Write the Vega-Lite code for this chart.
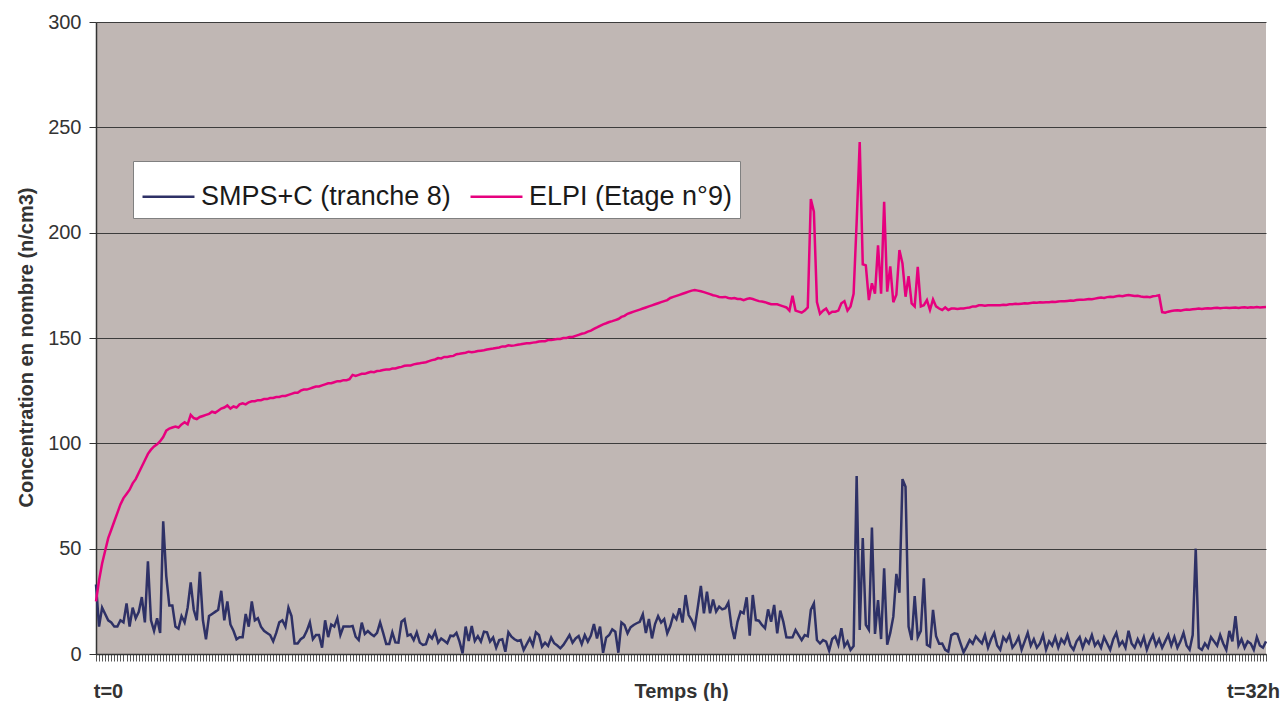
{
  "$schema": "https://vega.github.io/schema/vega-lite/v6.json",
  "width": 1170,
  "height": 632,
  "autosize": {"type": "none"},
  "padding": {"left": 96, "top": 22, "right": 18, "bottom": 47},
  "background": "white",
  "config": {
    "view": {"fill": "#C0B7B4", "stroke": null},
    "font": "Liberation Sans"
  },
  "data": {
    "values": [
      {"t":0,"s":33,"e":25},{"t":1,"s":13,"e":35},{"t":2,"s":22,"e":43},{"t":3,"s":19,"e":49},{"t":4,"s":16,"e":55},{"t":5,"s":15,"e":59},{"t":6,"s":13,"e":63},{"t":7,"s":13,"e":67},{"t":8,"s":16,"e":71},{"t":9,"s":15,"e":74},
      {"t":10,"s":24,"e":76},{"t":11,"s":13,"e":78},{"t":12,"s":22,"e":81},{"t":13,"s":17,"e":83},{"t":14,"s":20,"e":86},{"t":15,"s":27,"e":89},{"t":16,"s":15,"e":92},{"t":17,"s":44,"e":95},{"t":18,"s":16,"e":97},{"t":19,"s":11,"e":98.5},
      {"t":20,"s":17,"e":99.5},{"t":21,"s":10,"e":101},{"t":22,"s":63,"e":103},{"t":23,"s":37,"e":106},{"t":24,"s":23,"e":107},{"t":25,"s":23,"e":107.5},{"t":26,"s":13,"e":108},{"t":27,"s":12,"e":107.5},{"t":28,"s":18,"e":109},{"t":29,"s":15,"e":110},
      {"t":30,"s":22,"e":109},{"t":31,"s":34,"e":113.5},{"t":32,"s":21,"e":112},{"t":33,"s":16,"e":111.5},{"t":34,"s":39,"e":112.5},{"t":35,"s":16,"e":113},{"t":36,"s":7,"e":113.5},{"t":37,"s":18,"e":114},{"t":38,"s":19,"e":115},{"t":39,"s":20,"e":114.5},
      {"t":40,"s":21,"e":115.5},{"t":41,"s":30,"e":116.5},{"t":42,"s":16,"e":117},{"t":43,"s":25,"e":118},{"t":44,"s":14,"e":116.5},{"t":45,"s":11,"e":117.5},{"t":46,"s":7,"e":117},{"t":47,"s":8,"e":118.5},{"t":48,"s":8,"e":119},{"t":49,"s":19,"e":118.5},
      {"t":50,"s":13,"e":119.5},{"t":51,"s":25,"e":120},{"t":52,"s":16,"e":120},{"t":53,"s":17,"e":120.5},{"t":54,"s":13,"e":120.5},{"t":55,"s":11,"e":121},{"t":56,"s":10,"e":121},{"t":57,"s":9,"e":121.5},{"t":58,"s":6,"e":121.5},{"t":59,"s":10,"e":122},
      {"t":60,"s":15,"e":122},{"t":61,"s":16,"e":122.5},{"t":62,"s":13,"e":122.5},{"t":63,"s":22,"e":123},{"t":64,"s":18,"e":123.5},{"t":65,"s":5,"e":124},{"t":66,"s":5,"e":124},{"t":67,"s":7,"e":125},{"t":68,"s":8,"e":125.5},{"t":69,"s":11,"e":125.5},
      {"t":70,"s":15,"e":126},{"t":71,"s":7,"e":126.5},{"t":72,"s":9,"e":127},{"t":73,"s":9,"e":127},{"t":74,"s":3,"e":127.5},{"t":75,"s":16,"e":128},{"t":76,"s":8,"e":128.5},{"t":77,"s":14,"e":128.5},{"t":78,"s":13,"e":129},{"t":79,"s":17,"e":129.5},
      {"t":80,"s":9,"e":129.5},{"t":81,"s":13,"e":130},{"t":82,"s":13,"e":130},{"t":83,"s":13,"e":130.5},{"t":84,"s":13.3,"e":132.5},{"t":85,"s":8.2,"e":132},{"t":86,"s":6.6,"e":132.5},{"t":87,"s":14.9,"e":133},{"t":88,"s":9.5,"e":133},{"t":89,"s":10.9,"e":133.5},
      {"t":90,"s":9.5,"e":134},{"t":91,"s":8.5,"e":133.8},{"t":92,"s":10,"e":134.3},{"t":93,"s":15,"e":134.5},{"t":94,"s":10,"e":134.8},{"t":95,"s":4.7,"e":135},{"t":96,"s":4.7,"e":135},{"t":97,"s":10.3,"e":135.5},{"t":98,"s":5.5,"e":135.5},{"t":99,"s":5.4,"e":136},
      {"t":100,"s":15.3,"e":136.3},{"t":101,"s":16.5,"e":136.8},{"t":102,"s":8.7,"e":137},{"t":103,"s":9.3,"e":137},{"t":104,"s":6.6,"e":137.5},{"t":105,"s":10.3,"e":137.8},{"t":106,"s":5.4,"e":138},{"t":107,"s":4.3,"e":138.3},{"t":108,"s":4.7,"e":138.5},{"t":109,"s":9,"e":139},
      {"t":110,"s":7.4,"e":139.5},{"t":111,"s":10.6,"e":139.8},{"t":112,"s":5.4,"e":140.5},{"t":113,"s":7.4,"e":140.3},{"t":114,"s":6.3,"e":141},{"t":115,"s":5.1,"e":141},{"t":116,"s":8.7,"e":141.3},{"t":117,"s":8.5,"e":141.5},{"t":118,"s":10,"e":142.3},{"t":119,"s":5.9,"e":142.5},
      {"t":120,"s":0.3,"e":142.8},{"t":121,"s":13,"e":143},{"t":122,"s":6.2,"e":143.5},{"t":123,"s":13.3,"e":143.3},{"t":124,"s":6.2,"e":143.5},{"t":125,"s":8.5,"e":143.8},{"t":126,"s":5.9,"e":144},{"t":127,"s":10.6,"e":144.2},{"t":128,"s":10.3,"e":144.5},{"t":129,"s":5.9,"e":144.8},
      {"t":130,"s":7.8,"e":145},{"t":131,"s":3,"e":145.3},{"t":132,"s":6.6,"e":145.5},{"t":133,"s":7,"e":146},{"t":134,"s":1.1,"e":146},{"t":135,"s":10.3,"e":146.5},{"t":136,"s":8.2,"e":146.3},{"t":137,"s":7,"e":146.5},{"t":138,"s":6.2,"e":146.8},{"t":139,"s":6.6,"e":147},
      {"t":140,"s":1.9,"e":147.3},{"t":141,"s":4.7,"e":147.5},{"t":142,"s":7.4,"e":147.5},{"t":143,"s":4,"e":147.8},{"t":144,"s":10.3,"e":148},{"t":145,"s":9,"e":148.3},{"t":146,"s":3.5,"e":148.5},{"t":147,"s":5.4,"e":148.5},{"t":148,"s":3.8,"e":149},{"t":149,"s":7.8,"e":149},
      {"t":150,"s":5.1,"e":149.3},{"t":151,"s":4,"e":149.5},{"t":152,"s":2.7,"e":149.5},{"t":153,"s":4.3,"e":150},{"t":154,"s":6.6,"e":150},{"t":155,"s":9,"e":150.5},{"t":156,"s":5.4,"e":150.5},{"t":157,"s":7.4,"e":151},{"t":158,"s":8.5,"e":151.5},{"t":159,"s":4.7,"e":152},
      {"t":160,"s":9,"e":152.3},{"t":161,"s":5.9,"e":153},{"t":162,"s":8.7,"e":153.5},{"t":163,"s":14.2,"e":154.3},{"t":164,"s":7.4,"e":155},{"t":165,"s":13,"e":155.8},{"t":166,"s":0.6,"e":156.5},{"t":167,"s":7.8,"e":157},{"t":168,"s":9,"e":157.6},{"t":169,"s":11.7,"e":158},
      {"t":170,"s":10.6,"e":158.5},{"t":171,"s":0.6,"e":159},{"t":172,"s":15,"e":160},{"t":173,"s":13.8,"e":160.5},{"t":174,"s":9.8,"e":161.5},{"t":175,"s":12.7,"e":162},{"t":176,"s":13.8,"e":162.5},{"t":177,"s":14.6,"e":163},{"t":178,"s":15.3,"e":163.5},{"t":179,"s":18.8,"e":164},
      {"t":180,"s":10,"e":164.5},{"t":181,"s":16.6,"e":165},{"t":182,"s":7.4,"e":165.5},{"t":183,"s":14.2,"e":166},{"t":184,"s":18,"e":166.5},{"t":185,"s":14.9,"e":167},{"t":186,"s":16.5,"e":167.5},{"t":187,"s":9.8,"e":168},{"t":188,"s":13.3,"e":169},{"t":189,"s":18.5,"e":169.5},
      {"t":190,"s":16.5,"e":170},{"t":191,"s":21.7,"e":170.5},{"t":192,"s":14.9,"e":171},{"t":193,"s":28,"e":171.5},{"t":194,"s":18.5,"e":172},{"t":195,"s":16.1,"e":172.5},{"t":196,"s":12.5,"e":172.8},{"t":197,"s":22.2,"e":172.5},{"t":198,"s":32.3,"e":172.2},{"t":199,"s":19.3,"e":171.8},
      {"t":200,"s":29.6,"e":171.3},{"t":201,"s":19.3,"e":170.8},{"t":202,"s":25.9,"e":170.3},{"t":203,"s":20.1,"e":170},{"t":204,"s":22.5,"e":169.5},{"t":205,"s":21.2,"e":169.3},{"t":206,"s":21.7,"e":169.5},{"t":207,"s":24.4,"e":169},{"t":208,"s":13.3,"e":168.8},{"t":209,"s":7.1,"e":169},
      {"t":210,"s":15.3,"e":168.5},{"t":211,"s":20.1,"e":168.5},{"t":212,"s":19.3,"e":168},{"t":213,"s":26.9,"e":168.5},{"t":214,"s":8.7,"e":168.8},{"t":215,"s":28,"e":168.5},{"t":216,"s":16.1,"e":168},{"t":217,"s":15.8,"e":167.5},{"t":218,"s":13.8,"e":167.3},{"t":219,"s":12.2,"e":167},
      {"t":220,"s":21.2,"e":166.5},{"t":221,"s":15.3,"e":166},{"t":222,"s":23.3,"e":166},{"t":223,"s":9.8,"e":166},{"t":224,"s":20.6,"e":165.5},{"t":225,"s":15.3,"e":165},{"t":226,"s":7.9,"e":164.5},{"t":227,"s":7.8,"e":163},{"t":228,"s":7.9,"e":170},{"t":229,"s":11.4,"e":163},
      {"t":230,"s":9,"e":162.5},{"t":231,"s":6.6,"e":162},{"t":232,"s":9,"e":163},{"t":233,"s":8.4,"e":164.5},{"t":234,"s":21,"e":216},{"t":235,"s":24,"e":210},{"t":236,"s":6.6,"e":167},{"t":237,"s":5,"e":161.5},{"t":238,"s":6.6,"e":163},{"t":239,"s":5.9,"e":164},
      {"t":240,"s":1.6,"e":161.5},{"t":241,"s":7.1,"e":162.5},{"t":242,"s":8.4,"e":162.5},{"t":243,"s":4.4,"e":163},{"t":244,"s":12.2,"e":166.5},{"t":245,"s":3.6,"e":167.5},{"t":246,"s":5.9,"e":163},{"t":247,"s":1.9,"e":165},{"t":248,"s":3.8,"e":171},{"t":249,"s":84.5,"e":205},
      {"t":250,"s":11.4,"e":243},{"t":251,"s":55,"e":185},{"t":252,"s":13.8,"e":184.5},{"t":253,"s":11.5,"e":168},{"t":254,"s":60,"e":176},{"t":255,"s":9.5,"e":171},{"t":256,"s":25.6,"e":194},{"t":257,"s":7.1,"e":171},{"t":258,"s":40.7,"e":214.7},{"t":259,"s":4.4,"e":172},
      {"t":260,"s":10,"e":184},{"t":261,"s":17.7,"e":167},{"t":262,"s":38,"e":170.5},{"t":263,"s":29.1,"e":191.7},{"t":264,"s":83,"e":185.4},{"t":265,"s":79.4,"e":169.6},{"t":266,"s":13,"e":179.4},{"t":267,"s":6.6,"e":166.4},{"t":268,"s":27.5,"e":165},{"t":269,"s":7.9,"e":183.8},
      {"t":270,"s":11,"e":165},{"t":271,"s":35.9,"e":165.6},{"t":272,"s":4.4,"e":168},{"t":273,"s":3.5,"e":163.3},{"t":274,"s":20.9,"e":168.3},{"t":275,"s":8.4,"e":165},{"t":276,"s":4.9,"e":164},{"t":277,"s":5,"e":163.3},{"t":278,"s":2,"e":164.5},{"t":279,"s":1.1,"e":163.3},
      {"t":280,"s":9,"e":164},{"t":281,"s":9.8,"e":164},{"t":282,"s":9.5,"e":163.8},{"t":283,"s":5,"e":164},{"t":284,"s":0.8,"e":164},{"t":285,"s":3.5,"e":164.3},{"t":286,"s":6.6,"e":164.5},{"t":287,"s":4.9,"e":165},{"t":288,"s":8.4,"e":165},{"t":289,"s":6.6,"e":165.5},
      {"t":290,"s":5,"e":165.5},{"t":291,"s":9,"e":165.3},{"t":292,"s":3,"e":165.5},{"t":293,"s":7,"e":165.6},{"t":294,"s":10,"e":165.5},{"t":295,"s":4,"e":165.6},{"t":296,"s":2,"e":165.6},{"t":297,"s":8,"e":165.8},{"t":298,"s":6,"e":165.7},{"t":299,"s":9,"e":166},
      {"t":300,"s":3,"e":166},{"t":301,"s":5,"e":166.2},{"t":302,"s":8,"e":166.1},{"t":303,"s":2,"e":166.3},{"t":304,"s":6,"e":166.5},{"t":305,"s":10,"e":166.4},{"t":306,"s":4,"e":166.6},{"t":307,"s":7,"e":166.8},{"t":308,"s":3,"e":166.7},{"t":309,"s":5,"e":167},
      {"t":310,"s":9,"e":166.8},{"t":311,"s":2,"e":167},{"t":312,"s":6,"e":167},{"t":313,"s":4,"e":167.2},{"t":314,"s":8,"e":167.1},{"t":315,"s":3,"e":167.3},{"t":316,"s":7,"e":167.5},{"t":317,"s":5,"e":167.4},{"t":318,"s":9,"e":167.6},{"t":319,"s":4,"e":167.8},
      {"t":320,"s":2,"e":167.7},{"t":321,"s":6,"e":168},{"t":322,"s":8,"e":168.2},{"t":323,"s":3,"e":168.1},{"t":324,"s":7,"e":168.3},{"t":325,"s":5,"e":168.5},{"t":326,"s":9,"e":168.4},{"t":327,"s":4,"e":168.7},{"t":328,"s":6,"e":169},{"t":329,"s":3,"e":169.2},
      {"t":330,"s":8,"e":169},{"t":331,"s":5,"e":169.4},{"t":332,"s":2,"e":169.6},{"t":333,"s":7,"e":169.5},{"t":334,"s":10,"e":169.8},{"t":335,"s":4,"e":170},{"t":336,"s":6,"e":169.8},{"t":337,"s":3,"e":170.2},{"t":338,"s":11,"e":170.4},{"t":339,"s":5,"e":170.2},
      {"t":340,"s":3,"e":169.9},{"t":341,"s":7,"e":170},{"t":342,"s":4,"e":169.7},{"t":343,"s":8,"e":169.5},{"t":344,"s":2,"e":169.6},{"t":345,"s":6,"e":169.4},{"t":346,"s":9,"e":169.8},{"t":347,"s":4,"e":170},{"t":348,"s":7,"e":170.3},{"t":349,"s":3,"e":162.3},
      {"t":350,"s":6,"e":162},{"t":351,"s":9,"e":162.5},{"t":352,"s":4,"e":162.8},{"t":353,"s":8,"e":163},{"t":354,"s":3,"e":163.2},{"t":355,"s":6,"e":163},{"t":356,"s":10,"e":163.3},{"t":357,"s":4,"e":163.5},{"t":358,"s":2,"e":163.4},{"t":359,"s":9,"e":163.6},
      {"t":360,"s":50,"e":163.8},{"t":361,"s":3,"e":164},{"t":362,"s":2,"e":163.8},{"t":363,"s":5,"e":164},{"t":364,"s":3,"e":164.1},{"t":365,"s":8,"e":164},{"t":366,"s":6,"e":164.2},{"t":367,"s":4,"e":164.3},{"t":368,"s":9,"e":164.1},{"t":369,"s":5,"e":164.3},
      {"t":370,"s":2,"e":164.4},{"t":371,"s":11,"e":164.2},{"t":372,"s":6,"e":164.4},{"t":373,"s":18,"e":164.5},{"t":374,"s":4,"e":164.3},{"t":375,"s":7,"e":164.5},{"t":376,"s":3,"e":164.6},{"t":377,"s":6,"e":164.4},{"t":378,"s":5,"e":164.6},{"t":379,"s":2,"e":164.5},
      {"t":380,"s":8,"e":164.7},{"t":381,"s":4,"e":164.5},{"t":382,"s":3,"e":164.6},{"t":383,"s":6,"e":164.7}
    ]
  },
  "transform": [{"fold": ["s", "e"], "as": ["k", "v"]}],
  "mark": {"type": "line", "strokeWidth": 2.5},
  "encoding": {
    "x": {
      "field": "t",
      "type": "ordinal",
      "scale": {"type": "point", "padding": 0},
      "axis": {
        "title": "Temps (h)",
        "titleFontSize": 20,
        "titleFontWeight": "bold",
        "titleColor": "#333333",
        "titleY": 43,
        "titleBaseline": "alphabetic",
        "labelExpr": "datum.value == 0 ? 't=0' : (datum.value == 383 ? 't=32h' : '')",
        "labelAngle": 0,
        "labelOverlap": false,
        "labelFontSize": 20,
        "labelFontWeight": "bold",
        "labelColor": "#333333",
        "labelBaseline": "alphabetic",
        "labelPadding": 36,
        "labelOffset": {"condition": {"test": "datum.value == 0", "value": 12}, "value": -13},
        "tickSize": 7,
        "tickColor": "#555555",
        "tickWidth": 1,
        "domainColor": "#333333",
        "domainWidth": 1.5,
        "grid": false
      }
    },
    "y": {
      "field": "v",
      "type": "quantitative",
      "scale": {"domain": [0, 300], "nice": false},
      "axis": {
        "title": "Concentration en nombre (n/cm3)",
        "titleFontSize": 20,
        "titleFontWeight": "bold",
        "titleColor": "#333333",
        "titleAngle": 270,
        "titleX": -64,
        "titleY": 325,
        "titleAlign": "center",
        "titleBaseline": "alphabetic",
        "values": [0, 50, 100, 150, 200, 250, 300],
        "labelFontSize": 20,
        "labelColor": "#333333",
        "labelPadding": 8,
        "tickSize": 7,
        "tickColor": "#333333",
        "domainColor": "#333333",
        "domainWidth": 1.5,
        "gridColor": "#3C3C3C",
        "gridWidth": 1
      }
    },
    "color": {
      "field": "k",
      "type": "nominal",
      "scale": {"domain": ["s", "e"], "range": ["#2E3166", "#E6007E"]},
      "legend": {
        "orient": "none",
        "legendX": 37,
        "legendY": 139,
        "direction": "horizontal",
        "title": null,
        "labelExpr": "datum.value == 's' ? 'SMPS+C (tranche 8)' : 'ELPI (Etage n°9)'",
        "labelFontSize": 27,
        "labelColor": "#1A1A1A",
        "labelLimit": 400,
        "labelOffset": 5,
        "symbolType": "stroke",
        "symbolSize": 2700,
        "symbolStrokeWidth": 2.5,
        "fillColor": "white",
        "strokeColor": "#808080",
        "padding": 8,
        "columnPadding": 14
      }
    }
  }
}
